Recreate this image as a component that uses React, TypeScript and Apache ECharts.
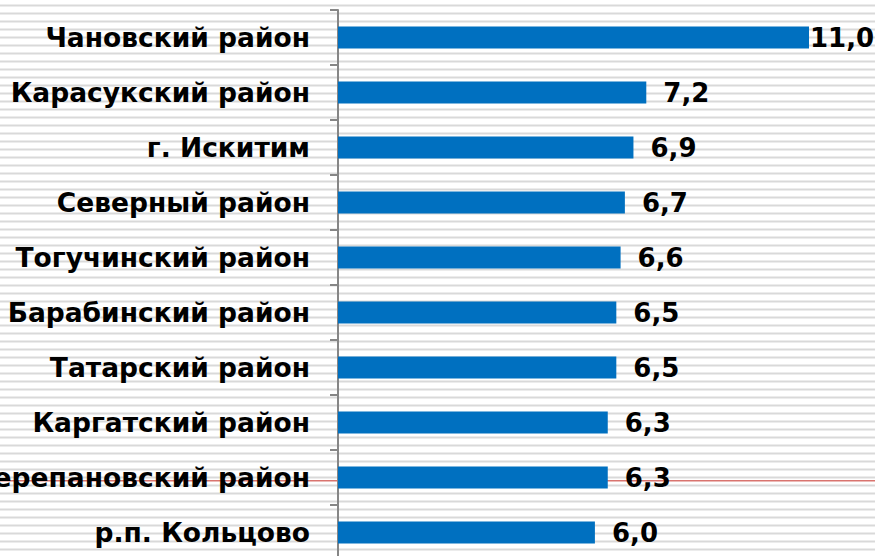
import React, { useEffect, useRef } from "react";
import * as echarts from "echarts";

const categories = [
  "Чановский район",
  "Карасукский район",
  "г. Искитим",
  "Северный район",
  "Тогучинский район",
  "Барабинский район",
  "Татарский район",
  "Каргатский район",
  "Черепановский район",
  "р.п. Кольцово",
];
const values = [11.0, 7.2, 6.9, 6.7, 6.6, 6.5, 6.5, 6.3, 6.3, 6.0];

export default function App() {
  const ref = useRef<HTMLDivElement>(null);
  useEffect(() => {
    if (!ref.current) return;
    const chart = echarts.init(ref.current, undefined, { renderer: "svg" });
    const stripes: any[] = [];
    for (let y = 4.5; y < 556; y += 8) {
      stripes.push({
        type: "rect",
        z: -10,
        silent: true,
        shape: { x: 0, y, width: 875, height: 2 },
        style: { fill: "#d9d9d9" },
      });
    }
    stripes.push({
      type: "rect",
      z: -9,
      silent: true,
      shape: { x: 0, y: 480, width: 875, height: 1.5 },
      style: { fill: "#d9746f" },
    });
    chart.setOption({
      animation: false,
      backgroundColor: "#ffffff",
      graphic: stripes,
      grid: {
        left: 338,
        top: 10,
        width: 471,
        bottom: -4,
        containLabel: false,
        outerBoundsMode: "none",
      },
      xAxis: {
        type: "value",
        min: 0,
        max: 11,
        show: false,
      },
      yAxis: {
        type: "category",
        inverse: true,
        data: categories,
        axisLine: { show: true, lineStyle: { color: "#868686", width: 2 } },
        axisTick: { show: true, length: 8, lineStyle: { color: "#868686", width: 2 } },
        axisLabel: {
          margin: 28,
          color: "#000",
          fontFamily: "DejaVu Sans",
          fontWeight: "bold",
          fontSize: 26.5,
        },
        splitLine: { show: false },
      },
      series: [
        {
          type: "bar",
          barWidth: 22,
          itemStyle: { color: "#0070c0" },
          data: values.map((v, i) => ({
            value: v,
            label: i === 0 ? { distance: 1 } : undefined,
          })),
          label: {
            show: true,
            position: "right",
            distance: 17,
            color: "#000",
            fontFamily: "DejaVu Sans",
            fontWeight: "bold",
            fontSize: 26,
            formatter: (p: any) => Number(p.value).toFixed(1).replace(".", ","),
          },
        },
      ],
    });
    return () => chart.dispose();
  }, []);
  return <div ref={ref} style={{ width: 875, height: 556, position: "absolute", left: 0, top: 0 }} />;
}
